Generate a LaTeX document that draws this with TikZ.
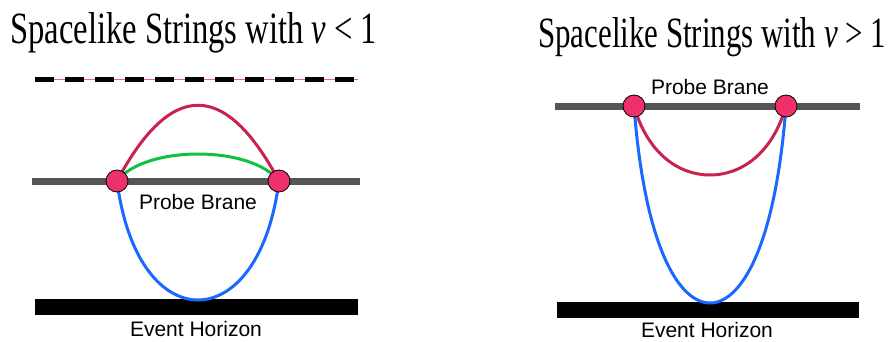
\documentclass[tikz,border=0pt]{standalone}
\usepackage{graphicx}
\usepackage{fontspec}
\setmainfont{Liberation Sans}
\newfontfamily\titlefont{Liberation Serif}
\definecolor{branegray}{HTML}{555555}
\definecolor{dotpink}{HTML}{F0306A}
\definecolor{arccrimson}{HTML}{C8234F}
\definecolor{arcgreen}{HTML}{10C040}
\definecolor{arcblue}{HTML}{1A68FF}
\definecolor{linepink}{HTML}{F06090}
\begin{document}
\begin{tikzpicture}[x=1pt,y=-1pt,
		brane/.style={branegray, line width=7pt},
		horizon/.style={black, line width=16pt},
		string/.style={line width=3pt},
		endpoint/.style={circle, draw=black, line width=0.8pt, fill=dotpink, minimum size=22pt, inner sep=0pt},
		lbl/.style={font=\fontsize{21}{24}\selectfont, inner sep=0pt}]
	\useasboundingbox (0,0) rectangle (889,341);
	% titles
	\node[anchor=base west, inner sep=0pt] (titleL) at (10,43)
		{\resizebox{367pt}{31pt}{\titlefont Spacelike Strings with \textit{v} < 1}};
	\node[anchor=base west, inner sep=0pt] (titleR) at (538,47)
		{\resizebox{348pt}{30pt}{\titlefont Spacelike Strings with \textit{v} > 1}};
	% left panel: v < 1
	\draw[linepink, line width=1pt] (35,79) -- (358,79);
	\draw[black, line width=5pt, dash pattern=on 19pt off 11pt] (35,79) -- (358,79);
	\draw[brane] (32,181) -- (360,181);
	\draw[horizon] (35,307) -- (358,307);
	\coordinate (L1) at (117,181);
	\coordinate (L2) at (279,181);
	\coordinate (Lbot) at (198,300);
	\draw[string, arccrimson] (L1) .. controls (171,80) and (225,80) .. (L2);
	\draw[string, arcgreen] (L1) .. controls (145,145) and (251,145) .. (L2);
	\draw[string, arcblue] (L1) .. controls (128,265) and (165,300) .. (Lbot)
		.. controls (231,300) and (268,265) .. (L2);
	\node[endpoint] (dotL1) at (L1) {};
	\node[endpoint] (dotL2) at (L2) {};
	\node[lbl] (braneL) at (198,202) {Probe Brane};
	\node[lbl] (horizonL) at (196,329) {Event Horizon};
	% right panel: v > 1
	\draw[brane] (555,106) -- (860,106);
	\draw[horizon] (557,310) -- (859,310);
	\coordinate (R1) at (634,106);
	\coordinate (R2) at (786,106);
	\coordinate (Rmid) at (710,175);
	\coordinate (Rbot) at (710,303);
	\draw[string, arccrimson] (R1) .. controls (648,155) and (680,175) .. (Rmid)
		.. controls (740,175) and (772,155) .. (R2);
	\draw[string, arcblue] (R1) .. controls (645,250) and (680,303) .. (Rbot)
		.. controls (740,303) and (775,250) .. (R2);
	\node[endpoint] (dotR1) at (R1) {};
	\node[endpoint] (dotR2) at (R2) {};
	\node[lbl] (braneR) at (710,87) {Probe Brane};
	\node[lbl] (horizonR) at (707,330) {Event Horizon};
\end{tikzpicture}
\end{document}
